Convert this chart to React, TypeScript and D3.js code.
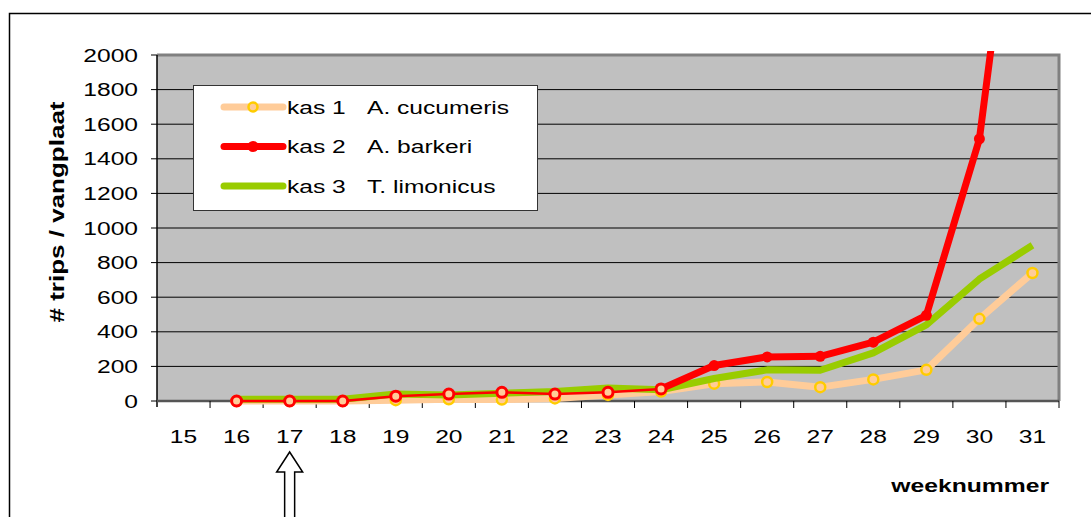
import * as d3 from 'd3';

// weeks on the x axis
const weeks = [15, 16, 17, 18, 19, 20, 21, 22, 23, 24, 25, 26, 27, 28, 29, 30, 31];
const yTicks = [0, 200, 400, 600, 800, 1000, 1200, 1400, 1600, 1800, 2000];

// series, from week 16 to 31
const seriesWeeks = [16, 17, 18, 19, 20, 21, 22, 23, 24, 25, 26, 27, 28, 29, 30, 31];
const kas1 = [0, 0, 0, 5, 10, 8, 15, 35, 55, 100, 110, 80, 125, 180, 475, 740];
const kas2 = [0, 0, 0, 28, 40, 50, 40, 50, 70, 205, 255, 258, 340, 495, 1515, 3900];
const kas3 = [10, 10, 10, 40, 35, 45, 55, 75, 65, 130, 180, 178, 278, 440, 705, 900];
// kas 2 is drawn thin with open markers until this week
const kas2ThickFrom = 24;

const legendItems = [
  { kas: 'kas 1', name: 'A. cucumeris' },
  { kas: 'kas 2', name: 'A. barkeri' },
  { kas: 'kas 3', name: 'T. limonicus' },
];

const W = 1091;
const H = 517;
const plot = { left: 157, right: 1059, top: 55, bottom: 401 };
const font = 'Arial, "Liberation Sans", sans-serif';

const PEACH = '#FFCC99';
const YELLOW = '#FFCC00';
const RED = '#FF0000';
const GREEN = '#99CC00';

// the original text is a bit wider than Arial, so stretch it horizontally
const Txt = ({ x, y, anchor = 'start', size = 18.5, bold = false, stretch = 1.33, rotate = 0, children }: any) => (
  <text
    transform={`translate(${x},${y}) rotate(${rotate}) scale(${stretch},1)`}
    textAnchor={anchor} fontFamily={font} fontSize={size} fontWeight={bold ? 'bold' : 'normal'} fill="#000"
  >
    {children}
  </text>
);

export default function App() {
  const x = d3.scaleBand<number>().domain(weeks).range([plot.left, plot.right]);
  const y = d3.scaleLinear().domain([0, 2000]).range([plot.bottom, plot.top]);
  const cx = (w: number) => (x(w) as number) + x.bandwidth() / 2;

  const pts = (vals: number[]) => vals.map((v, i) => [seriesWeeks[i], v] as [number, number]);
  const line = d3.line<[number, number]>().x(d => cx(d[0])).y(d => y(d[1]));

  const k2 = pts(kas2);
  const k2Thin = k2.filter(d => d[0] <= kas2ThickFrom);
  const k2Thick = k2.filter(d => d[0] >= kas2ThickFrom);
  const ax = cx(17);

  return (
    <svg width={W} height={H} style={{ position: 'absolute', left: 0, top: 0, background: '#fff' }}>
      <defs>
        <clipPath id="plotclip">
          <rect x={plot.left} y={plot.top - 4} width={plot.right - plot.left} height={plot.bottom - plot.top + 20} />
        </clipPath>
      </defs>
      {/* outer frame */}
      <rect x={9.5} y={13.5} width={W + 20} height={H + 20} fill="#fff" stroke="#000" strokeWidth={1.5} />

      {/* plot area */}
      <rect x={plot.left} y={plot.top} width={plot.right - plot.left} height={plot.bottom - plot.top} fill="#C0C0C0" />
      {yTicks.filter(t => t > 0).map(t => (
        <line key={t} x1={plot.left} x2={plot.right} y1={y(t)} y2={y(t)} stroke="#000" strokeWidth={1} />
      ))}
      <path
        d={`M${plot.left},${plot.top} H${plot.right} V${plot.bottom}`}
        fill="none" stroke="#808080" strokeWidth={3}
      />

      {/* y axis */}
      <line x1={plot.left} x2={plot.left} y1={plot.top} y2={plot.bottom + 6} stroke="#000" strokeWidth={1.5} />
      {yTicks.map(t => (
        <g key={t}>
          <line x1={plot.left - 6} x2={plot.left} y1={y(t)} y2={y(t)} stroke="#000" />
          <Txt x={138} y={y(t) + 6.5} anchor="end">{t}</Txt>
        </g>
      ))}
      <Txt x={64} y={212} anchor="middle" size={20} bold stretch={1.3} rotate={-90}># trips / vangplaat</Txt>

      {/* x axis */}
      <line x1={plot.left} x2={plot.right} y1={plot.bottom} y2={plot.bottom} stroke="#555" strokeWidth={2.5} />
      {weeks.map(w => (
        <line key={'t' + w} x1={(x(w) as number) + x.bandwidth()} x2={(x(w) as number) + x.bandwidth()}
          y1={plot.bottom} y2={plot.bottom + 7} stroke="#000" />
      ))}
      {weeks.map(w => (
        <Txt key={'l' + w} x={cx(w)} y={443} anchor="middle">{w}</Txt>
      ))}
      <Txt x={1049} y={492} anchor="end" size={19} bold stretch={1.3}>weeknummer</Txt>

      {/* arrow under week 17 */}
      <path
        d={`M${ax},452 L${ax + 13},472 L${ax + 5},472 L${ax + 5},${H + 5} L${ax - 5},${H + 5} L${ax - 5},472 L${ax - 13},472 Z`}
        fill="#fff" stroke="#000" strokeWidth={1.5}
      />

      {/* series */}
      <g clipPath="url(#plotclip)">
        <path d={line(pts(kas1)) ?? ''} fill="none" stroke={PEACH} strokeWidth={7} strokeLinejoin="round" />
        {pts(kas1).map(d => (
          <circle key={'k1' + d[0]} cx={cx(d[0])} cy={y(d[1])} r={5} fill={PEACH} stroke={YELLOW} strokeWidth={2.5} />
        ))}
        <path d={line(pts(kas3)) ?? ''} fill="none" stroke={GREEN} strokeWidth={7} strokeLinejoin="round" />
        <path d={line(k2Thin) ?? ''} fill="none" stroke={RED} strokeWidth={2.5} />
        <path d={line(k2Thick) ?? ''} fill="none" stroke={RED} strokeWidth={7} strokeLinejoin="round" />
        {k2.filter(d => d[0] <= kas2ThickFrom).map(d => (
          <circle key={'k2o' + d[0]} cx={cx(d[0])} cy={y(d[1])} r={5} fill={PEACH} stroke={RED} strokeWidth={3} />
        ))}
        {k2.filter(d => d[0] > kas2ThickFrom).map(d => (
          <circle key={'k2f' + d[0]} cx={cx(d[0])} cy={y(d[1])} r={5.5} fill={RED} />
        ))}
      </g>

      {/* legend */}
      <rect x={193.5} y={85.5} width={344} height={125} fill="#fff" stroke="#333" strokeWidth={1} />
      {legendItems.map((it, i) => {
        const ly = 107 + i * 39.5;
        const color = [PEACH, RED, GREEN][i];
        return (
          <g key={it.kas}>
            <line x1={224} x2={283} y1={ly} y2={ly} stroke={color} strokeWidth={7} strokeLinecap="round" />
            {i === 0 && <circle cx={253} cy={ly} r={4.5} fill={PEACH} stroke={YELLOW} strokeWidth={2.5} />}
            {i === 1 && <circle cx={253} cy={ly} r={5.5} fill={RED} />}
            <Txt x={287} y={ly + 6.5}>{it.kas}</Txt>
            <Txt x={367} y={ly + 6.5}>{it.name}</Txt>
          </g>
        );
      })}
    </svg>
  );
}
